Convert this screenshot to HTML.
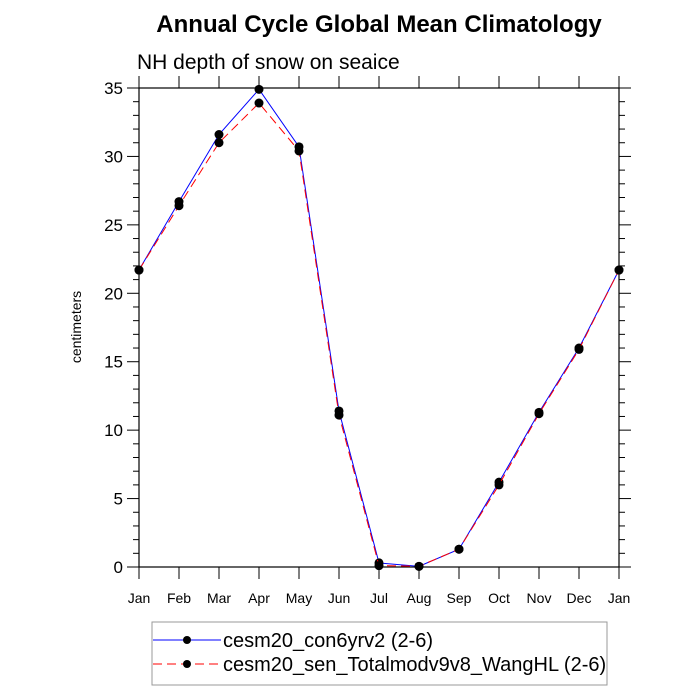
<!DOCTYPE html>
<html><head><meta charset="utf-8"><style>
body{margin:0;background:#fff}
svg{display:block;font-family:"Liberation Sans",sans-serif}
</style></head><body>
<svg id="chart" width="700" height="700">
<text x="379" y="32" text-anchor="middle" font-size="24" font-weight="bold">Annual Cycle Global Mean Climatology</text>
<text x="137" y="69" font-size="21">NH depth of snow on seaice</text>
<text transform="translate(81,327) rotate(-90)" text-anchor="middle" font-size="14">centimeters</text>
<g id="axes"></g>
<g id="series"></g>
<g>
<rect x="152" y="622" width="455" height="63" fill="none" stroke="#999" stroke-width="1"/>
<g>
<line x1="153" y1="640" x2="221" y2="640" stroke="#00f" stroke-width="1"/>
<circle cx="187" cy="640" r="4" fill="#000"/>
<text x="223" y="647" font-size="20">cesm20_con6yrv2 (2-6)</text></g>
<g>
<line x1="153" y1="664" x2="221" y2="664" stroke="#f00" stroke-width="1" stroke-dasharray="9,5"/>
<circle cx="187" cy="664" r="4" fill="#000"/>
<text x="223" y="671" font-size="20">cesm20_sen_Totalmodv9v8_WangHL (2-6)</text></g>
</g>
</svg>
<script>
const months = ["Jan","Feb","Mar","Apr","May","Jun","Jul","Aug","Sep","Oct","Nov","Dec","Jan"];
const controlValues = [21.7,26.7,31.6,34.9,30.7,11.4,0.3,0.05,1.3,6.2,11.3,16.0,21.7];
const sensValues = [21.7,26.4,31.0,33.9,30.4,11.1,0.1,0.05,1.3,6.0,11.2,15.9,21.7];
const yTicks = [0,5,10,15,20,25,30,35];
const X0=139,X1=619,Y0=567,Y1=88,YMAX=35;
const xs=i=>X0+i*(X1-X0)/(months.length-1);
const ys=v=>Y0-(v/YMAX)*(Y0-Y1);
const NS="http://www.w3.org/2000/svg";
function mk(tag,attrs,parent){const e=document.createElementNS(NS,tag);for(const k in attrs)e.setAttribute(k,attrs[k]);parent.appendChild(e);return e;}
const ax=document.getElementById('axes');
const fr=mk('rect',{x:X0,y:Y1,width:X1-X0,height:Y0-Y1,fill:'none',stroke:'#000','stroke-width':1.2},ax);


for(let v=0;v<=YMAX;v++){
  const y=ys(v),maj=v%5===0,L=maj?12:6;
  mk('line',{x1:X0-L,y1:y,x2:X0,y2:y,stroke:'#000'},ax);
  mk('line',{x1:X1,y1:y,x2:X1+L,y2:y,stroke:'#000'},ax);
}
yTicks.forEach(v=>{
  const t=mk('text',{x:X0-16,y:ys(v)+6,'text-anchor':'end','font-size':17},ax);
  t.textContent=v;
  
  
});
months.forEach((m,i)=>{
  const x=xs(i);
  mk('line',{x1:x,y1:Y0,x2:x,y2:Y0+12,stroke:'#000'},ax);
  mk('line',{x1:x,y1:Y1-12,x2:x,y2:Y1,stroke:'#000'},ax);
  const t=mk('text',{x:x,y:Y0+36,'text-anchor':'middle','font-size':14},ax);
  t.textContent=m;
  
  
});
const sg=document.getElementById('series');
function drawSeries(vals,color,dash,name){
  const pts=vals.map((v,i)=>xs(i)+','+ys(v)).join(' ');
  const pl=mk('polyline',{points:pts,fill:'none',stroke:color,'stroke-width':1,'stroke-dasharray':dash},sg);
  
  
  vals.forEach((v,i)=>{
    const c=mk('circle',{cx:xs(i),cy:ys(v),r:4.5,fill:'#000'},sg);
    
    
  });
}
drawSeries(controlValues,'#00f','none','control');
drawSeries(sensValues,'#f00','9,5','sensitivity');
</script>
</body></html>
